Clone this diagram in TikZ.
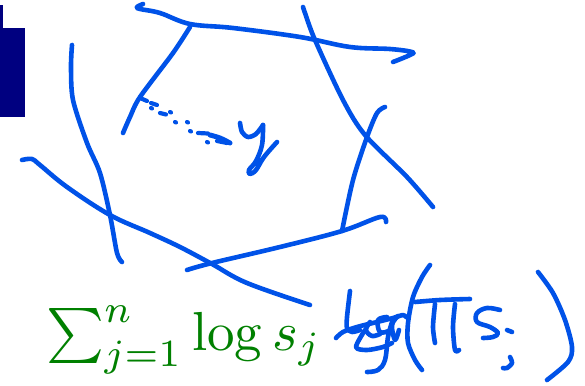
\documentclass[tikz,border=0pt]{standalone}
\usepackage{amsmath}
\definecolor{inkblue}{RGB}{0,82,232}
\definecolor{navyblk}{RGB}{0,0,128}
\definecolor{formgreen}{RGB}{0,128,0}
\tikzset{
  ink/.style={draw=inkblue, line width=4.6pt, line cap=round, line join=round},
  dotink/.style={draw=inkblue, line width=4.2pt, line cap=round}
}
\begin{document}
\begin{tikzpicture}[x=1pt,y=-1pt]
\useasboundingbox (0,0) rectangle (585,385);
% navy block at left
\fill[navyblk] (0,28) rectangle (25,117);
\fill[navyblk] (0,5) rectangle (2.5,28);
% polytope edges
\draw[ink] plot[smooth, tension=0.6] coordinates {(143,4) (137,7) (140,9) (160,13) (190,24) (233,28) (300,37) (350,47) (390,49) (412,52) (410,55) (393,62)};
\draw[ink] plot[smooth] coordinates {(190,27) (173,53) (140,97) (130,117) (123,133)};
\draw[ink] plot[smooth] coordinates {(72,45) (71,67) (73,100) (87,143) (100,173) (110,215) (117,253) (122,262)};
\draw[ink] plot[smooth, tension=0.6] coordinates {(22,160) (32,159) (40,165) (67,187) (110,215) (150,233) (180,247) (212,264) (247,283) (310,305)};
\draw[ink] plot[smooth, tension=0.6] coordinates {(187,270) (212,263) (280,247) (342,231) (380,217) (386,222)};
\draw[ink] plot[smooth] coordinates {(303,7) (305,13) (315,40) (343,100) (365,135) (407,177) (433,207)};
\draw[ink] plot[smooth] coordinates {(385,107) (377,113) (367,137) (353,180) (342,231)};
% dotted arrow to y
\draw[dotink] (140,98) -- (147,101);
\draw[dotink] (151,103) -- (157,105);
\draw[dotink] (151,108) -- (152,108.5);
\draw[dotink] (160,113) -- (166,114.5);
\draw[dotink] (170,112) -- (171,112.5);
\draw[dotink] (175,122) -- (176,122.5);
\draw[dotink] (187,122) -- (188,122.5);
\draw[dotink] (190,131) -- (191,131.5);
\draw[dotink] (198,133) -- (208,133.5);
\draw[dotink] (207,142) -- (208,142.5);
\draw[ink, line width=5pt] plot[smooth] coordinates {(210,135) (220,138) (230,143)};
\draw[dotink] (217,141) -- (227,143);
% handwritten y
\draw[ink] plot[smooth] coordinates {(240,123) (242,132) (248,137) (256,134) (263,125)};
\draw[ink] plot[smooth, tension=0.6] coordinates {(263,125) (262,145) (256,161) (249,170) (250,174) (256,170) (264,157) (277,142)};
% green formula
\node[anchor=base west, text=formgreen, scale=5.5, inner sep=0pt] (formula) at (45,350) {$\sum_{j=1}^n \log s_j$};
% handwritten scribble log(prod s_j)
\draw[ink] plot[smooth] coordinates {(350,291) (347,317) (347,328) (352,332) (360,330)};
\draw[ink] plot[smooth] coordinates {(336,338) (343,332) (357,327) (377,322) (393,318) (403,315) (406,317)};
\draw[ink] plot[smooth, tension=0.5] coordinates {(365,330) (356,347) (367,350) (383,347) (392,343)};
\draw[ink] plot[smooth, tension=0.6] coordinates {(387,317) (378,320) (380,332) (390,330) (392,322) (388,337) (385,360) (378,370) (367,372)};
\draw[ink] plot[smooth, tension=0.6] coordinates {(370,322) (366,330) (372,336) (380,334)};
\draw[ink] plot[smooth, tension=0.6] coordinates {(398,316) (392,325) (395,340) (399,330)};
\draw[ink] plot[smooth] coordinates {(430,265) (422,277) (413,297) (408,323) (408,343) (415,360) (422,370)};
\draw[ink] plot[smooth] coordinates {(415,302) (440,300) (470,299)};
\draw[ink] plot[smooth] coordinates {(435,304) (433,327) (435,343)};
\draw[ink] plot[smooth] coordinates {(455,304) (453,327) (455,350) (459,350)};
\draw[ink] plot[smooth, tension=0.6] coordinates {(500,310) (487,308) (477,313) (477,322) (490,327) (498,333) (493,337) (483,338)};
\draw[ink] (507,330) -- (512,332);
\draw[ink] plot[smooth] coordinates {(510,357) (512,363) (507,368) (503,368)};
\draw[ink] plot[smooth] coordinates {(538,272) (553,293) (565,320) (572,347) (568,362) (547,380)};
\end{tikzpicture}
\end{document}
